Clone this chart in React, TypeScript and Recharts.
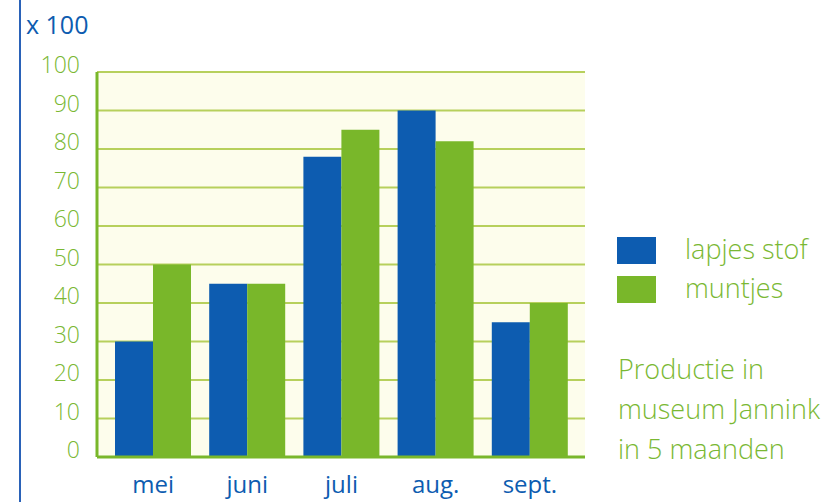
import React from 'react';
import { BarChart, Bar, XAxis, YAxis, CartesianGrid } from 'recharts';

const months = ['mei', 'juni', 'juli', 'aug.', 'sept.'];
const lapjesStof = [30, 45, 78, 90, 35];
const muntjes = [50, 45, 85, 82, 40];
const yTicks = [0, 10, 20, 30, 40, 50, 60, 70, 80, 90, 100];
const seriesNames = ['lapjes stof', 'muntjes'];
const noteLines = ['Productie in', 'museum Jannink', 'in 5 maanden'];
const unitLabel = 'x 100';

const BLUE = '#0d5cb0';
const GREEN = '#79b72a';
const TEXT_GREEN = '#7ab833';
const FONT = '"Open Sans", "Noto Sans", sans-serif';
const seriesColors = [BLUE, GREEN];

const data = months.map((m, i) => ({ month: m, lapjes: lapjesStof[i], muntjes: muntjes[i] }));

const YTick = (props: any) => {
  const { x, y, payload } = props;
  return (
    <text x={x} y={y} dy={1} textAnchor="end" fill={TEXT_GREEN} fontSize={23} fontFamily={FONT} fontWeight={300}>
      {payload.value}
    </text>
  );
};

const XTick = (props: any) => {
  const { x, y, payload } = props;
  return (
    <text x={x} y={y} dy={28} textAnchor="middle" fill={BLUE} fontSize={24} fontFamily={FONT} fontWeight={400}>
      {payload.value}
    </text>
  );
};

export default function App() {
  return (
    <div style={{ position: 'absolute', left: 0, top: 0, width: 830, height: 502, background: '#ffffff', overflow: 'hidden' }}>
      <div style={{ position: 'absolute', left: 19, top: 0, width: 2, height: 502, background: '#2a62b8' }} />
      <div style={{ position: 'absolute', left: 26, top: 7, fontFamily: FONT, fontSize: 25, color: BLUE, fontWeight: 400 }}>{unitLabel}</div>
      <BarChart
        width={830}
        height={502}
        data={data}
        margin={{ top: 72, right: 245, bottom: 0, left: 0 }}
        barGap={0}
        barSize={38}
      >
        <CartesianGrid vertical={false} stroke="#b7d05c" strokeWidth={2} fill="#fdfdec" />
        <XAxis
          dataKey="month"
          height={45}
          tickLine={false}
          axisLine={{ stroke: GREEN, strokeWidth: 3 }}
          tick={<XTick />}
          padding={{ left: 9, right: 8 }}
          interval={0}
        />
        <YAxis
          width={97}
          domain={[0, 100]}
          ticks={yTicks}
          tickLine={false}
          tickSize={0}
          tickMargin={17}
          axisLine={{ stroke: GREEN, strokeWidth: 3 }}
          tick={<YTick />}
          interval={0}
        />
        <Bar dataKey="lapjes" name={seriesNames[0]} fill={BLUE} isAnimationActive={false} />
        <Bar dataKey="muntjes" name={seriesNames[1]} fill={GREEN} isAnimationActive={false} />
      </BarChart>
      <div style={{ position: 'absolute', left: 617, top: 237, width: 213, height: 240, fontFamily: FONT, color: TEXT_GREEN }}>
        {seriesNames.map((n, i) => (
          <div key={i}>
            <div style={{ position: 'absolute', left: 0, top: i * 39, width: 39, height: 27, background: seriesColors[i] }} />
            <div style={{ position: 'absolute', left: 68, top: i * 39 - 6, fontSize: 27, lineHeight: '36px', fontWeight: 300, whiteSpace: 'nowrap' }}>
              {n}
            </div>
          </div>
        ))}
        {noteLines.map((t, i) => (
          <div key={'n' + i} style={{ position: 'absolute', left: 1, top: 113 + i * 40, fontSize: 27, lineHeight: '38px', fontWeight: 300, whiteSpace: 'nowrap' }}>
            {t}
          </div>
        ))}
      </div>
    </div>
  );
}
